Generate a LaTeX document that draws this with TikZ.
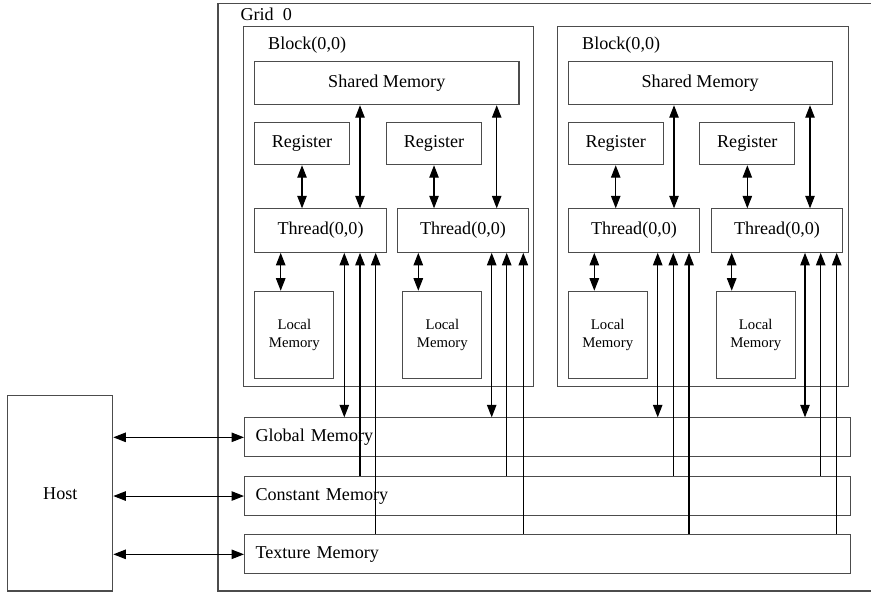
\documentclass[tikz,border=0pt]{standalone}
\usepackage{fontspec}
\setmainfont{Liberation Serif}
\usetikzlibrary{arrows.meta}

\begin{document}
\begin{tikzpicture}[x=0.02cm,y=-0.02cm,line width=0.6pt,
  >={Triangle[length=2.5mm,width=1.9mm]},
  box/.style={draw=black!70,anchor=north west,inner sep=0pt,font=\fontsize{10.3}{12}\selectfont},
  reg/.style={box,minimum width=1.9cm,minimum height=0.85cm},
  thr/.style={box,minimum width=2.63cm,minimum height=0.87cm},
  loc/.style={box,minimum width=1.58cm,minimum height=1.74cm,align=center,font=\fontsize{8.4}{10}\selectfont},
  mem/.style={box,minimum height=0.78cm,text width=11.68cm,inner xsep=0.22cm,align=left},
  lab/.style={anchor=west,inner sep=0pt,font=\fontsize{10.3}{12}\selectfont}]
\useasboundingbox (0,0) rectangle (871,592);

\draw[black!70] (871,3.5) -| (218,591) -- (871,591);
\node[lab] (grid) at (240,14) {Grid~~0};

\node[box,minimum width=5.79cm,minimum height=7.2cm] (B1) at (243.3,26) {};
\node[lab] (B1t) at (267.7,45) {Block(0,0)};
\node[box,minimum width=5.29cm,minimum height=0.87cm] (S1) at (254,60.7) {Shared Memory};
\node[reg] (R1) at (254,121.7) {Register};
\node[reg] (R2) at (386,121.7) {Register};
\node[thr] (T1) at (254.3,208.3) {Thread(0,0)};
\node[thr] (T2) at (396.7,208.3) {Thread(0,0)};
\node[loc] (L1) at (254.3,290.7) {Local\\Memory};
\node[loc] (L2) at (402.3,290.7) {Local\\Memory};

\node[box,minimum width=5.81cm,minimum height=7.2cm] (B2) at (557.3,26) {};
\node[lab] (B2t) at (581.7,45) {Block(0,0)};
\node[box,minimum width=5.28cm,minimum height=0.87cm] (S2) at (567.7,60.7) {Shared Memory};
\node[reg] (R3) at (567.7,121.7) {Register};
\node[reg] (R4) at (699.3,121.7) {Register};
\node[thr] (T3) at (567.7,208.3) {Thread(0,0)};
\node[thr] (T4) at (710.7,208.3) {Thread(0,0)};
\node[loc] (L3) at (567.7,290.7) {Local\\Memory};
\node[loc] (L4) at (715.7,290.7) {Local\\Memory};

\node[box,minimum width=2.1cm,minimum height=3.91cm] (host) at (7.3,395) {Host};
\node[mem] (GM) at (244,417.3) {Global Memory};
\node[mem] (CM) at (244,476) {Constant Memory};
\node[mem] (TM) at (244,534.3) {Texture Memory};

  \draw[<->] (R1.south) -- (R1.south |- T1.north);
  \draw[<->] (R2.south) -- (R2.south |- T2.north);
  \draw[<->] (R3.south) -- (R3.south |- T3.north);
  \draw[<->] (R4.south) -- (R4.south |- T4.north);

  \draw[<->] (S1.south -| 360,0) -- (T1.north -| 360,0);
  \draw[<->] (S1.south -| 496.7,0) -- (T2.north -| 496.7,0);
  \draw[<->] (S2.south -| 674,0) -- (T3.north -| 674,0);
  \draw[<->] (S2.south -| 810,0) -- (T4.north -| 810,0);

  \draw[<->] (T1.south -| 280.7,0) -- (L1.north -| 280.7,0);
  \draw[<->] (T2.south -| 418.3,0) -- (L2.north -| 418.3,0);
  \draw[<->] (T3.south -| 594.3,0) -- (L3.north -| 594.3,0);
  \draw[<->] (T4.south -| 731.7,0) -- (L4.north -| 731.7,0);

\draw[<->] (T1.south -| 344.3,0) -- (GM.north -| 344.3,0);
\draw[<-] (T1.south -| 360,0) -- (CM.north -| 360,0);
\draw[<-] (T1.south -| 375.7,0) -- (TM.north -| 375.7,0);
\draw[<->] (T2.south -| 491.7,0) -- (GM.north -| 491.7,0);
\draw[<-] (T2.south -| 506.7,0) -- (CM.north -| 506.7,0);
\draw[<-] (T2.south -| 523.3,0) -- (TM.north -| 523.3,0);
\draw[<->] (T3.south -| 657.7,0) -- (GM.north -| 657.7,0);
\draw[<-] (T3.south -| 673.3,0) -- (CM.north -| 673.3,0);
\draw[<-] (T3.south -| 689,0) -- (TM.north -| 689,0);
\draw[<->] (T4.south -| 805,0) -- (GM.north -| 805,0);
\draw[<-] (T4.south -| 820.7,0) -- (CM.north -| 820.7,0);
\draw[<-] (T4.south -| 836.7,0) -- (TM.north -| 836.7,0);

\draw[<->] (host.east |- GM.west) -- (GM.west);
\draw[<->] (host.east |- CM.west) -- (CM.west);
\draw[<->] (host.east |- TM.west) -- (TM.west);

\end{tikzpicture}
\end{document}
